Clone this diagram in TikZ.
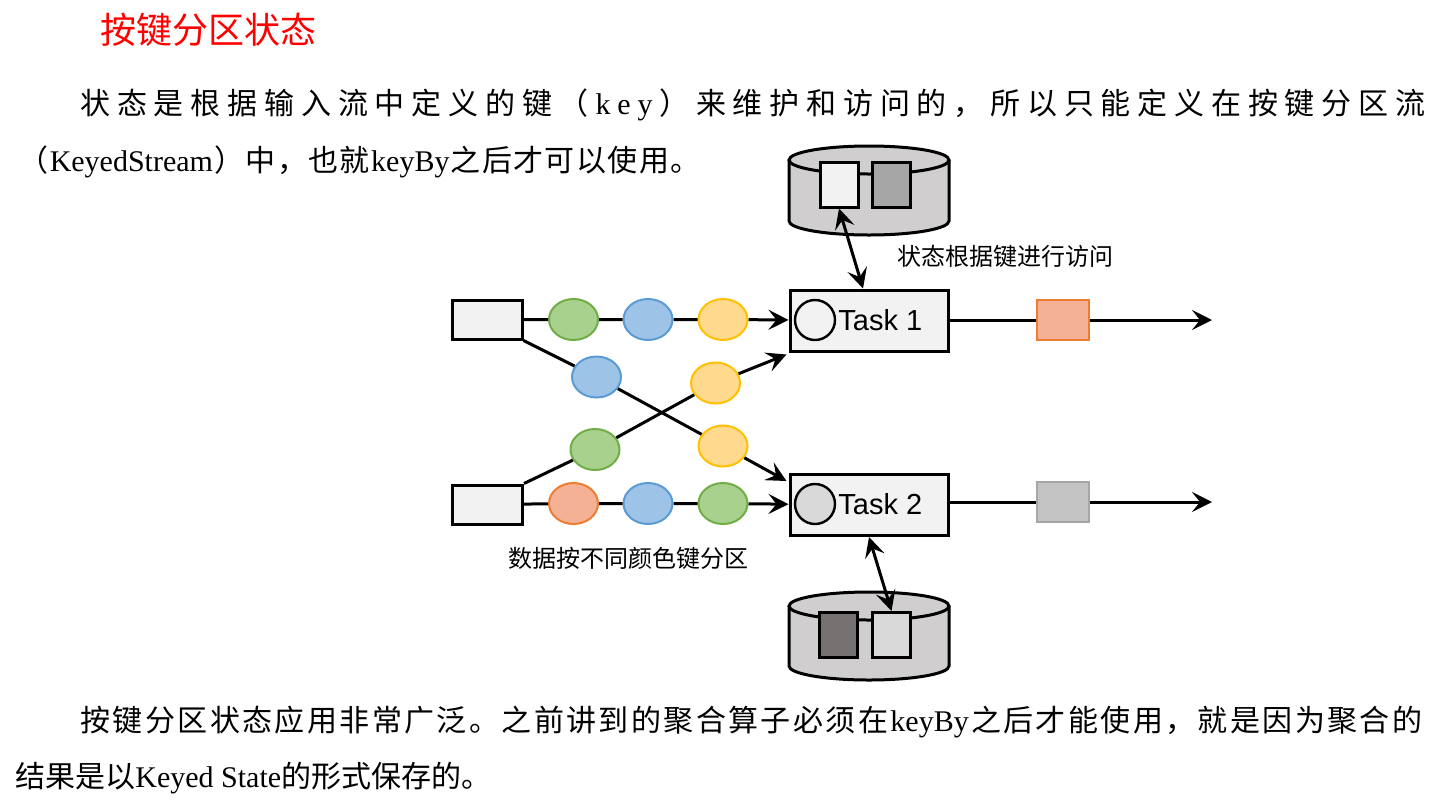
\documentclass[tikz,border=0pt]{standalone}
\usepackage{fontspec}
\setmainfont{Liberation Serif}
\newfontfamily\cjk{Noto Sans CJK SC}
\newfontfamily\hei{Liberation Sans}
\usetikzlibrary{calc,shapes.geometric,arrows.meta}

\definecolor{boxgray}{HTML}{F2F2F2}
\definecolor{cylgray}{HTML}{D0CECE}
\definecolor{keylight}{HTML}{F2F2F2}
\definecolor{keymid}{HTML}{A6A6A6}
\definecolor{keydark}{HTML}{767171}
\definecolor{keypale}{HTML}{D9D9D9}
\definecolor{grnfill}{HTML}{A9D18E}
\definecolor{grnline}{HTML}{70AD47}
\definecolor{blufill}{HTML}{9DC3E6}
\definecolor{bluline}{HTML}{5B9BD5}
\definecolor{ylwfill}{HTML}{FFD98E}
\definecolor{ylwline}{HTML}{FFC000}
\definecolor{orgfill}{HTML}{F4B196}
\definecolor{orgline}{HTML}{ED7D31}

% 两端对齐的一行
\newcommand{\spreadline}[2]{\makebox[#1][s]{\spaceskip=0pt plus 1fil\xspaceskip=0pt plus 1fil\relax #2}}

\begin{document}
\begin{tikzpicture}[x=0.5pt, y=-0.5pt, >={Stealth[length=10pt,width=10pt,inset=4pt]},
  conn/.style={line width=1.5pt},
  src/.style={draw, line width=1.5pt, fill=boxgray, minimum width=35pt, minimum height=19.5pt, inner sep=0pt},
  task/.style={draw, line width=1.5pt, fill=boxgray, minimum width=79pt, minimum height=30.5pt, inner sep=0pt},
  msg/.style={ellipse, draw, line width=1pt, minimum width=24.5pt, minimum height=20.5pt, inner sep=0pt},
  store/.style={draw, line width=1.5pt, fill=cylgray},
  cell/.style={draw, line width=1.5pt, minimum width=19pt, minimum height=22.5pt, inner sep=0pt},
  outbox/.style={draw, line width=1pt, minimum width=26pt, minimum height=20pt, inner sep=0pt},
  lbl/.style={inner sep=0pt, font=\cjk\fontsize{12pt}{14pt}\selectfont},
  body/.style={anchor=west, inner sep=0pt, font=\cjk\fontsize{15pt}{18pt}\selectfont}]
  \useasboundingbox (0,0) rectangle (1440,804);

  % 标题与正文
  \node[body, text=red, font=\cjk\fontsize{18pt}{21pt}\selectfont] (title) at (100,30) {按键分区状态};
  \node[body] (p1a) at (80,105) {\spreadline{672.5pt}{状 态 是 根 据 输 入 流 中 定 义 的 键 （ \textrm{k} \textrm{e} \textrm{y} ） 来 维 护 和 访 问 的 ， 所 以 只 能 定 义 在 按 键 分 区 流}};
  \node[body] (p1b) at (18,162) {\spreadline{341pt}{（ \textrm{KeyedStream} ） 中 ， 也 就 \textrm{keyBy} 之 后 才 可 以 使 用 。}};
  \node[body] (p2a) at (80,722) {\spreadline{671pt}{按 键 分 区 状 态 应 用 非 常 广 泛 。 之 前 讲 到 的 聚 合 算 子 必 须 在 \textrm{keyBy} 之 后 才 能 使 用 ， 就 是 因 为 聚 合 的}};
  \node[body] (p2b) at (15,778) {结果是以\textrm{Keyed State}的形式保存的。};

  % 上方状态存储
  \draw[store] (789,160) -- (789,221) arc[start angle=180, end angle=360, x radius=40pt, y radius=7pt] -- (949,160);
  \draw[store] (869,160) ellipse[x radius=40pt, y radius=7pt];
  \node[cell, fill=keylight] (ka) at (839,184.5) {};
  \node[cell, fill=keymid] (kb) at (891.5,184.5) {};

  % 下方状态存储
  \draw[store] (789,606) -- (789,666) arc[start angle=180, end angle=360, x radius=40pt, y radius=7pt] -- (949,606);
  \draw[store] (869,606) ellipse[x radius=40pt, y radius=7pt];
  \node[cell, fill=keydark] (kc) at (838,635) {};
  \node[cell, fill=keypale] (kd) at (891.5,635) {};

  % 数据源与任务
  \node[src] (src1) at (487,319.5) {};
  \node[src] (src2) at (487.5,504.5) {};
  \node[task] (task1) at (869,320.5) {};
  \node[task] (task2) at (869,505) {};
  \node[circle, draw, line width=1.2pt, minimum size=20pt, inner sep=0pt] (st1) at (815,320) {};
  \node[circle, draw, line width=1.2pt, fill=keypale, minimum size=20pt, inner sep=0pt] (st2) at (815,504) {};
  \node[anchor=west, inner sep=0pt, font=\hei\fontsize{14.5pt}{17pt}\selectfont] (tn1) at (838,320) {Task 1};
  \node[anchor=west, inner sep=0pt, font=\hei\fontsize{14.5pt}{17pt}\selectfont] (tn2) at (838,504) {Task 2};

  % 按键着色的数据
  \foreach \name/\px/\py/\fc/\lc in {a1/573.5/319.5/grnfill/grnline, a2/648/319.5/blufill/bluline, a3/723/319.5/ylwfill/ylwline,
      b1/573.5/503.5/orgfill/orgline, b2/648/503.5/blufill/bluline, b3/723/503.5/grnfill/grnline,
      c1/596.5/377/blufill/bluline, c2/723/446/ylwfill/ylwline,
      d1/595/449.5/grnfill/grnline, d2/715.5/383/ylwfill/ylwline}{
    \node[msg, fill=\fc, draw=\lc] (\name) at (\px,\py) {};
  }

  \draw[conn,->] (src1) -- (a1) -- (a2) -- (a3) -- (task1);
  \draw[conn,->] (src2) -- (b1) -- (b2) -- (b3) -- (task2);
  \draw[conn,->] (src1.south east) -- (c1) -- (c2) -- ($(task2.north west)+(-2,8)$);
  \draw[conn,->] (src2.north east) -- (d1) -- (d2) -- ($(task1.south west)+(-2,2)$);

  % 输出
  \node[outbox, fill=orgfill, draw=orgline] (out1) at (1063,320) {};
  \node[outbox, fill=keypale!90!black, draw=keymid] (out2) at (1063,502) {};
  \coordinate (end1) at (1212,320);
  \coordinate (end2) at (1212,502);
  \draw[conn,->] (task1.east |- out1) -- (out1) -- (end1);
  \draw[conn,->] (task2.east |- out2) -- (out2) -- (end2);

  % 状态访问
  \draw[conn,<->] (ka.south) -- ($(task1.north)+(-6,0)$);
  \draw[conn,<->] (task2.south) -- (kd.north);
  \node[lbl, anchor=west] (lbltop) at (897,256) {状态根据键进行访问};
  \node[lbl] (lblbot) at (628,558) {数据按不同颜色键分区};
\end{tikzpicture}
\end{document}
